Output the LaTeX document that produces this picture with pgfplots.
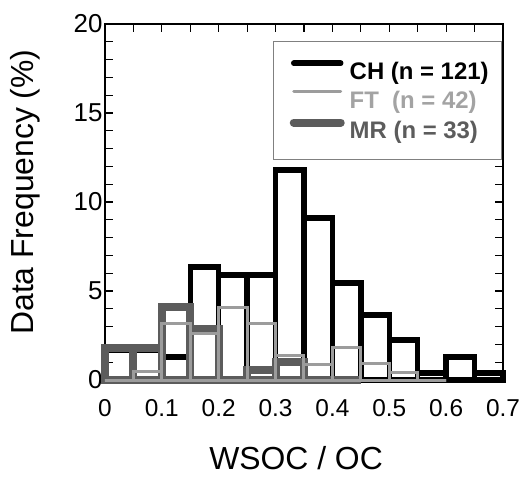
\documentclass[border=0pt]{standalone}
\usepackage{fontspec}
\setmainfont{Liberation Sans}
\usepackage{pgfplots}
\pgfplotsset{compat=1.18}
\definecolor{ftgray}{HTML}{9C9C9C}
\definecolor{mrgray}{HTML}{5C5C5C}
\definecolor{ftlegend}{HTML}{A3A3A3}
\pgfplotsset{mylegend/.style={legend image code/.code={\path (0bp,0bp); \draw[##1,line cap=round] (3bp,8.5bp) -- (50bp,8.5bp);}}}
\begin{document}
\begin{tikzpicture}
\useasboundingbox (-105bp,-98bp) rectangle (414bp,380bp);
\begin{axis}[
  at={(0,0)}, anchor=south west,
  scale only axis, width=398bp, height=356bp,
  xmin=0, xmax=0.7, ymin=0, ymax=20,
  xtick={0,0.1,0.2,0.3,0.4,0.5,0.6,0.7},
  minor x tick num=1,
  ytick={0,5,10,15,20}, minor y tick num=4,
  major tick length=8bp, minor tick length=8bp,
  tick style={line width=1.2bp, black},
  axis line style={line width=1.8bp},
  clip=false,
  /pgf/number format/assume math mode=true,
  /pgf/number format/fixed,
  xticklabel style={font=\fontsize{24.5}{28}\selectfont, yshift=-16bp},
  yticklabel style={font=\fontsize{26}{30}\selectfont, xshift=1bp},
  xlabel={WSOC / OC}, ylabel={Data Frequency (\%)},
  label style={font=\fontsize{32}{38}\selectfont},
  xlabel style={at={(axis description cs:0.48,-0.218)}, anchor=center, inner sep=0pt},
  ylabel style={at={(axis description cs:-0.201,0.528)}, anchor=center},
  legend style={at={(axis description cs:0.9975,0.952)}, anchor=north east,
    draw=gray, line width=0.8bp, inner xsep=13bp, inner ysep=19bp,
    font=\fontsize{24}{28}\selectfont\bfseries, row sep=9bp,
    nodes={inner sep=0pt}, column sep=5bp},
  legend cell align=left,
]
\addplot[ybar interval, draw=black, line width=5.5bp, fill=none, mylegend]
  coordinates {(0,1.65)(0.05,1.65)(0.1,1.3)(0.15,6.35)(0.2,5.9)(0.25,5.9)(0.3,11.8)(0.35,9.1)(0.4,5.45)(0.45,3.65)(0.5,2.25)(0.55,0.4)(0.6,1.3)(0.65,0.4)(0.7,0.4)};
\addlegendentry{CH (n = 121)}
\addplot[ybar interval, draw=ftgray, line width=3bp, fill=none, mylegend]
  coordinates {(0,0)(0.05,0.45)(0.1,3.2)(0.15,2.6)(0.2,4.1)(0.25,3.2)(0.3,1.35)(0.35,0.85)(0.4,1.85)(0.45,0.9)(0.5,0.4)(0.55,0)(0.6,0)};
\addlegendentry{\textcolor{ftlegend}{FT\ \ (n = 42)}}
\addplot[ybar interval, draw=mrgray, line width=8bp, fill=none, mylegend]
  coordinates {(0,1.8)(0.05,1.8)(0.1,4.1)(0.15,2.85)(0.2,0)(0.25,0.55)(0.3,1.0)(0.35,0)(0.4,0)(0.45,0)};
\addlegendentry{\textcolor{mrgray}{MR (n = 33)}}
\addplot[ybar interval, draw=ftgray, line width=3bp, fill=none, forget plot]
  coordinates {(0,0)(0.05,0.45)(0.1,3.2)(0.15,2.6)(0.2,4.1)(0.25,3.2)(0.3,1.35)(0.35,0.85)(0.4,1.85)(0.45,0.9)(0.5,0.4)(0.55,0)(0.6,0)};
\end{axis}
\end{tikzpicture}
\end{document}
